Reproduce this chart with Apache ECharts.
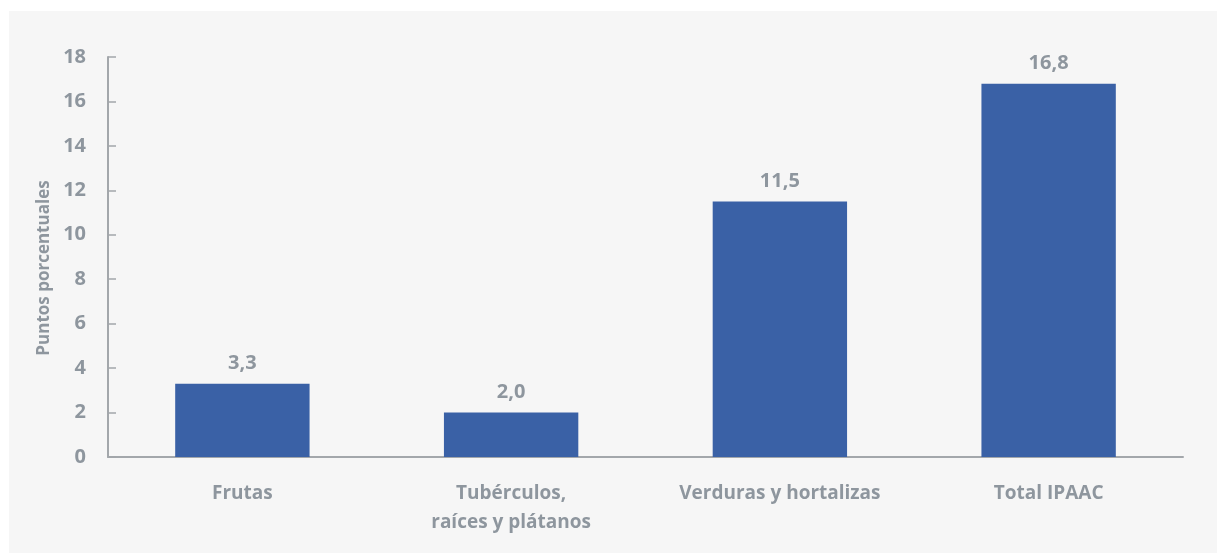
<!DOCTYPE html>
<html>
<head>
<meta charset="utf-8">
<script src="https://cdn.jsdelivr.net/npm/echarts@6/dist/echarts.min.js"></script>
<style>
  html, body { margin: 0; padding: 0; background: #ffffff; }
  #chart { width: 1217px; height: 554px; }
</style>
</head>
<body>
<div id="chart"></div>
<script>
// categorias y valores (puntos porcentuales)
const categorias = ['Frutas', 'Tubérculos,\nraíces y plátanos', 'Verduras y hortalizas', 'Total IPAAC'];
const valores = [3.3, 2.0, 11.5, 16.8];
const ejeY = { min: 0, max: 18, interval: 2 };

const gris = '#8e969e';
const fuente = 'Open Sans';
const chart = echarts.init(document.getElementById('chart'), null, { renderer: 'canvas' });

const option = {
  backgroundColor: '#ffffff',
  animation: false,
  textStyle: { fontFamily: fuente, fontWeight: 'bold' },
  graphic: [{
    type: 'rect',
    left: 9, top: 11,
    shape: { width: 1208, height: 542 },
    style: { fill: '#f6f6f6' },
    z: -10
  }],
  grid: { left: 108, right: 34, top: 57, bottom: 97 },
  xAxis: {
    type: 'category',
    data: categorias,
    axisLine: { lineStyle: { color: '#a3a7ab', width: 2 } },
    axisTick: { show: false },
    axisLabel: {
      color: gris, fontSize: 19, fontWeight: 'bold', fontFamily: fuente,
      margin: 22, lineHeight: 29, interval: 0
    }
  },
  yAxis: {
    type: 'value',
    min: ejeY.min, max: ejeY.max, interval: ejeY.interval,
    name: 'Puntos porcentuales',
    nameLocation: 'middle',
    nameGap: 55,
    nameTextStyle: {
      color: gris, fontSize: 17, fontWeight: 'bold', fontFamily: fuente,
      padding: [0, 22, 0, 0]
    },
    axisLine: { show: true, lineStyle: { color: '#a3a7ab', width: 2 } },
    axisTick: { show: true, inside: true, length: 8, lineStyle: { color: '#a3a7ab', width: 1.5 } },
    splitLine: { show: false },
    axisLabel: { color: gris, fontSize: 20, fontWeight: 'bold', fontFamily: fuente, margin: 22 }
  },
  series: [{
    type: 'bar',
    data: valores,
    barWidth: '50%',
    itemStyle: { color: '#3a61a6' },
    label: {
      show: true,
      position: 'top',
      distance: 10,
      color: gris, fontSize: 20, fontWeight: 'bold', fontFamily: fuente,
      formatter: p => p.value.toFixed(1).replace('.', ',')
    }
  }]
};

chart.setOption(option);
</script>
</body>
</html>
